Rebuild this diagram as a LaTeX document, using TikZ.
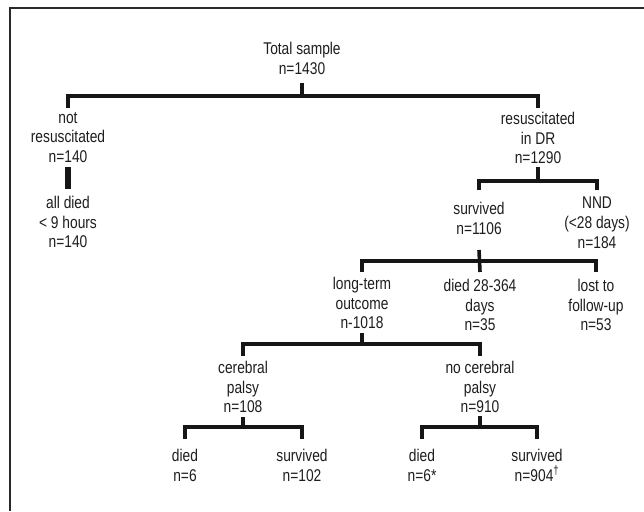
\documentclass[tikz,border=0pt]{standalone}
\usepackage{fontspec}
\setmainfont{Liberation Sans}[FakeStretch=0.81]
\definecolor{txt}{HTML}{1E1E1E}
\definecolor{ln}{HTML}{161616}
\definecolor{frm}{HTML}{2A2A2A}
\begin{document}
\begin{tikzpicture}[x=1pt,y=-1pt,
  lbl/.style={anchor=north,align=center,font=\fontsize{17}{19.7}\selectfont,text=txt,inner sep=0pt},
  br/.style={line width=3.6pt,draw=ln,line join=miter,line cap=butt},
  fat/.style={line width=6.5pt,draw=ln,line cap=butt},
  frame/.style={line width=1.6pt,draw=frm}]
\useasboundingbox (0,0) rectangle (644,511);
\fill[white] (0,0) rectangle (644,511);
\coordinate (fbl) at (10,511);
\coordinate (fc) at (10,8);
\coordinate (ftr) at (644,8);
\draw[frame] (fbl) -- (fc) -- (ftr);

% nodes
\node[lbl] (total)  at (302,42)  {Total sample\\n=1430};
\node[lbl] (notres) at (68,112)  {not\\resuscitated\\n=140};
\node[lbl] (alld)   at (68,196)  {all died\\< 9 hours\\n=140};
\node[lbl] (resus)  at (538,112) {resuscitated\\in DR\\n=1290};
\node[lbl] (surv)   at (479,202) {survived\\n=1106};
\node[lbl] (nnd)    at (597,197) {NND\\(<28 days)\\n=184};
\node[lbl] (lt)     at (362,277) {long-term\\outcome\\n-1018};
\node[lbl] (d28)    at (480,279) {died 28-364\\days\\n=35};
\node[lbl] (lost)   at (596,279) {lost to\\follow-up\\n=53};
\node[lbl] (cp)     at (243,361) {cerebral\\palsy\\n=108};
\node[lbl] (ncp)    at (480,361) {no cerebral\\palsy\\n=910};
\node[lbl] (d1)     at (185,449) {died\\n=6};
\node[lbl] (s1)     at (302,449) {survived\\n=102};
\node[lbl] (d2)     at (422,449) {died\\n=6*};
\node[lbl] (s2)     at (537,449) {survived\\n=904\textsuperscript{\textdagger}};

% bar levels
\coordinate (b1) at (302,96);
\coordinate (b2) at (538,181);
\coordinate (b3) at (479,261);
\coordinate (b4) at (362,344);
\coordinate (b5) at (243,427);
\coordinate (b6) at (480,427);

% total sample
\draw[br] (total |- 0,83) -- (total |- b1);
\draw[br] (notres |- 0,108) |- (b1) -| (resus |- 0,108);
% not resuscitated -> all died
\draw[fat] (notres |- 0,167) -- (alld |- 0,189);
% resuscitated
\draw[br] (resus |- 0,167) -- (resus |- b2);
\draw[br] (surv |- 0,190) |- (b2) -| (nnd |- 0,190);
% survived
\draw[br] (surv |- 0,250) -- (d28 |- 0,272);
\draw[br] (lt |- 0,272) |- (b3) -| (lost |- 0,272);
% long-term outcome
\draw[br] (lt |- 0,333) -- (lt |- b4);
\draw[br] (cp |- 0,356) |- (b4) -| (ncp |- 0,356);
% cerebral palsy
\draw[br] (cp |- 0,417) -- (cp |- b5);
\draw[br] (d1 |- 0,439) |- (b5) -| (s1 |- 0,439);
% no cerebral palsy
\draw[br] (ncp |- 0,416) -- (ncp |- b6);
\draw[br] (d2 |- 0,439) |- (b6) -| (s2 |- 0,439);
\end{tikzpicture}
\end{document}
